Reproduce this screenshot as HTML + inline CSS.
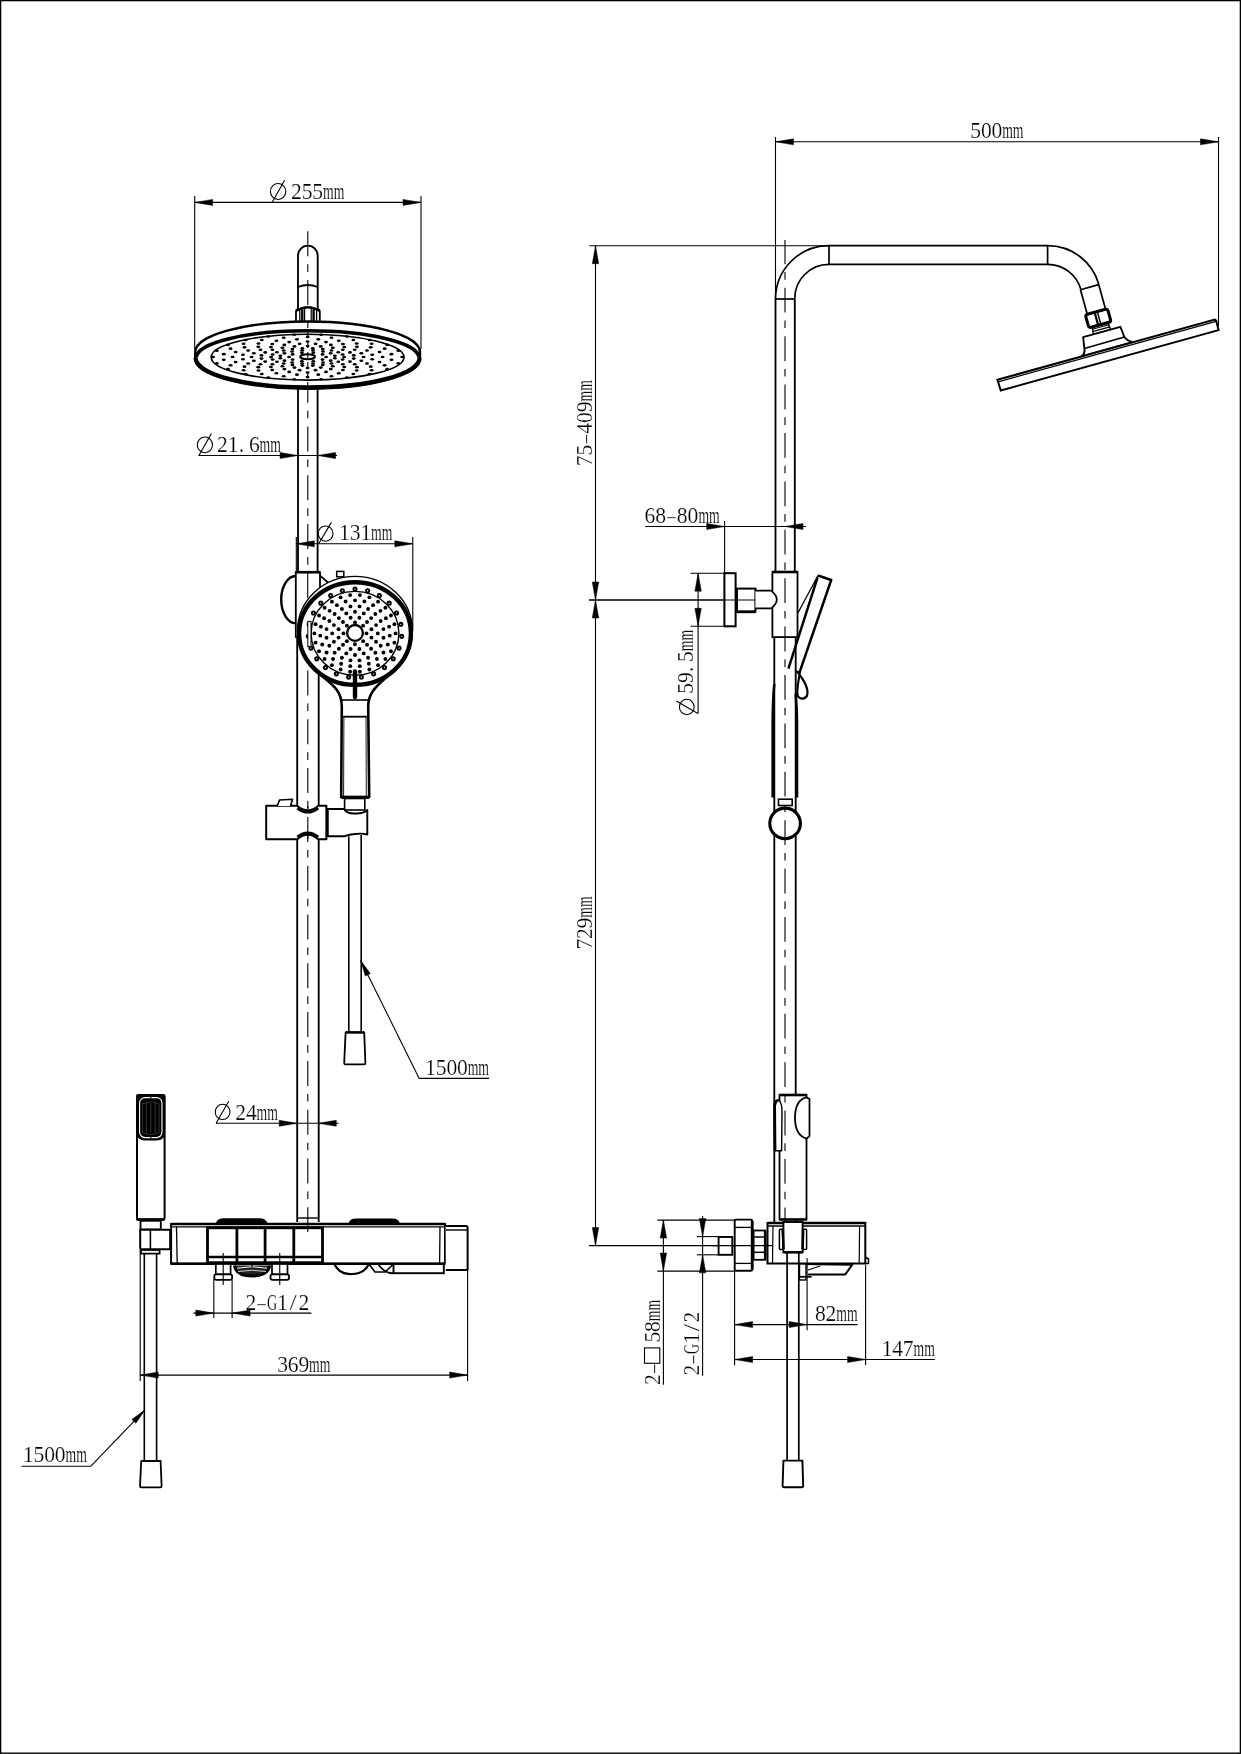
<!DOCTYPE html>
<html><head><meta charset="utf-8"><style>html,body{margin:0;padding:0;background:#fff;width:1241px;height:1754px;overflow:hidden}svg{display:block}text{stroke:#fff;stroke-width:0.22px}svg{will-change:transform}</style></head>
<body><svg width="1241" height="1754" viewBox="0 0 1241 1754">
<rect x="0" y="0" width="1241" height="1754" fill="#fff"/>
<rect x="0.6" y="0.6" width="1239.8" height="1752.6" fill="none" stroke="#000" stroke-width="1.4"/>
<line x1="194.7" y1="196" x2="194.7" y2="349" stroke="#000" stroke-width="1.1" />
<line x1="421" y1="196" x2="421" y2="349" stroke="#000" stroke-width="1.1" />
<line x1="194.7" y1="202.4" x2="421" y2="202.4" stroke="#000" stroke-width="1.1" />
<path d="M194.7,202.4 L212.7,199.4 L212.7,205.4 Z" fill="#000" stroke="#000" stroke-width="0.5"/>
<path d="M421,202.4 L403,205.4 L403,199.4 Z" fill="#000" stroke="#000" stroke-width="0.5"/>
<ellipse cx="278.1" cy="191.5" rx="7.7" ry="7.93" fill="none" stroke="#000" stroke-width="1.1" />
<line x1="284.6" y1="180.2" x2="272.1" y2="202.4" stroke="#000" stroke-width="1.1" />
<g transform="translate(291.2,199.2)"><text transform="translate(5.3,0) scale(0.92,1)" x="0" y="0" text-anchor="middle" font-family="Liberation Serif" font-size="23.5">2</text><text transform="translate(15.9,0) scale(0.92,1)" x="0" y="0" text-anchor="middle" font-family="Liberation Serif" font-size="23.5">5</text><text transform="translate(26.5,0) scale(0.92,1)" x="0" y="0" text-anchor="middle" font-family="Liberation Serif" font-size="23.5">5</text><text x="31.8" y="0" font-family="Liberation Serif" font-size="23.5" textLength="21.3" lengthAdjust="spacingAndGlyphs">mm</text></g>
<line x1="307.8" y1="231.3" x2="307.8" y2="311" stroke="#000" stroke-width="1.1" stroke-dasharray="25 8 7.6 8.2"/>
<path d="M298,311 L298,255.5 A9.85,9.85 0 0 1 317.7,255.5 L317.7,311" fill="none" stroke="#000" stroke-width="1.85" stroke-linejoin="round" />
<path d="M298,287 Q307.85,283 317.7,287" fill="none" stroke="#000" stroke-width="1.85" stroke-linejoin="round" />
<path d="M296,322 L296,312 Q296,309 299,309 Q307.8,305.5 316.6,309 Q319.8,309 319.8,312 L319.8,322" fill="#fff" stroke="#000" stroke-width="1.8" stroke-linejoin="round" />
<line x1="299.8" y1="310" x2="299.8" y2="321" stroke="#000" stroke-width="1.3" />
<line x1="302.3" y1="309" x2="302.3" y2="321" stroke="#000" stroke-width="2.4" />
<line x1="304.6" y1="308" x2="304.6" y2="321" stroke="#000" stroke-width="1.2" />
<line x1="311.2" y1="308" x2="311.2" y2="321" stroke="#000" stroke-width="1.2" />
<line x1="313.6" y1="309" x2="313.6" y2="321" stroke="#000" stroke-width="2.4" />
<line x1="316.6" y1="310" x2="316.6" y2="321" stroke="#000" stroke-width="1.3" />
<path d="M296,311 Q307.8,303.5 319.8,311" fill="none" stroke="#000" stroke-width="2.2" stroke-linejoin="round" />
<path d="M195.2,352 A112.4,30.5 0 0 1 420,352 L420,358 A112.4,30.2 0 0 1 195.2,358 Z" fill="#fff" stroke="#000" stroke-width="2.4" stroke-linejoin="round" />
<path d="M195.2,358 A112.4,30.2 0 0 0 420,358" fill="none" stroke="#000" stroke-width="3.4" stroke-linejoin="round" />
<path d="M196.4,357.6 A111.2,26.8 0 0 1 418.8,357.6" fill="none" stroke="#000" stroke-width="3.6" stroke-linejoin="round" />
<path d="M196.4,357.6 A111.2,29 0 0 0 418.8,357.6" fill="none" stroke="#000" stroke-width="2.6" stroke-linejoin="round" />
<ellipse cx="307.6" cy="357.2" rx="96.4" ry="22.9" fill="none" stroke="#000" stroke-width="1.6" />
<ellipse cx="289.1" cy="357" rx="1.95" ry="1.3" fill="#000"/>
<ellipse cx="292.63" cy="354.42" rx="1.95" ry="1.3" fill="#000"/>
<ellipse cx="301.88" cy="352.82" rx="1.95" ry="1.3" fill="#000"/>
<ellipse cx="313.32" cy="352.82" rx="1.95" ry="1.3" fill="#000"/>
<ellipse cx="322.57" cy="354.42" rx="1.95" ry="1.3" fill="#000"/>
<ellipse cx="326.1" cy="357" rx="1.95" ry="1.3" fill="#000"/>
<ellipse cx="322.57" cy="359.58" rx="1.95" ry="1.3" fill="#000"/>
<ellipse cx="313.32" cy="361.18" rx="1.95" ry="1.3" fill="#000"/>
<ellipse cx="301.88" cy="361.18" rx="1.95" ry="1.3" fill="#000"/>
<ellipse cx="292.63" cy="359.58" rx="1.95" ry="1.3" fill="#000"/>
<ellipse cx="280.33" cy="355.71" rx="1.95" ry="1.3" fill="#000"/>
<ellipse cx="284.49" cy="353.33" rx="1.95" ry="1.3" fill="#000"/>
<ellipse cx="292.16" cy="351.51" rx="1.95" ry="1.3" fill="#000"/>
<ellipse cx="302.18" cy="350.52" rx="1.95" ry="1.3" fill="#000"/>
<ellipse cx="313.02" cy="350.52" rx="1.95" ry="1.3" fill="#000"/>
<ellipse cx="323.04" cy="351.51" rx="1.95" ry="1.3" fill="#000"/>
<ellipse cx="330.71" cy="353.33" rx="1.95" ry="1.3" fill="#000"/>
<ellipse cx="334.87" cy="355.71" rx="1.95" ry="1.3" fill="#000"/>
<ellipse cx="334.87" cy="358.29" rx="1.95" ry="1.3" fill="#000"/>
<ellipse cx="330.71" cy="360.67" rx="1.95" ry="1.3" fill="#000"/>
<ellipse cx="323.04" cy="362.49" rx="1.95" ry="1.3" fill="#000"/>
<ellipse cx="313.02" cy="363.48" rx="1.95" ry="1.3" fill="#000"/>
<ellipse cx="302.18" cy="363.48" rx="1.95" ry="1.3" fill="#000"/>
<ellipse cx="292.16" cy="362.49" rx="1.95" ry="1.3" fill="#000"/>
<ellipse cx="284.49" cy="360.67" rx="1.95" ry="1.3" fill="#000"/>
<ellipse cx="280.33" cy="358.29" rx="1.95" ry="1.3" fill="#000"/>
<ellipse cx="271.1" cy="357" rx="1.95" ry="1.3" fill="#000"/>
<ellipse cx="272.58" cy="354.56" rx="1.95" ry="1.3" fill="#000"/>
<ellipse cx="276.89" cy="352.31" rx="1.95" ry="1.3" fill="#000"/>
<ellipse cx="283.7" cy="350.45" rx="1.95" ry="1.3" fill="#000"/>
<ellipse cx="292.44" cy="349.11" rx="1.95" ry="1.3" fill="#000"/>
<ellipse cx="302.41" cy="348.42" rx="1.95" ry="1.3" fill="#000"/>
<ellipse cx="312.79" cy="348.42" rx="1.95" ry="1.3" fill="#000"/>
<ellipse cx="322.76" cy="349.11" rx="1.95" ry="1.3" fill="#000"/>
<ellipse cx="331.5" cy="350.45" rx="1.95" ry="1.3" fill="#000"/>
<ellipse cx="338.31" cy="352.31" rx="1.95" ry="1.3" fill="#000"/>
<ellipse cx="342.62" cy="354.56" rx="1.95" ry="1.3" fill="#000"/>
<ellipse cx="344.1" cy="357" rx="1.95" ry="1.3" fill="#000"/>
<ellipse cx="342.62" cy="359.44" rx="1.95" ry="1.3" fill="#000"/>
<ellipse cx="338.31" cy="361.69" rx="1.95" ry="1.3" fill="#000"/>
<ellipse cx="331.5" cy="363.55" rx="1.95" ry="1.3" fill="#000"/>
<ellipse cx="322.76" cy="364.89" rx="1.95" ry="1.3" fill="#000"/>
<ellipse cx="312.79" cy="365.58" rx="1.95" ry="1.3" fill="#000"/>
<ellipse cx="302.41" cy="365.58" rx="1.95" ry="1.3" fill="#000"/>
<ellipse cx="292.44" cy="364.89" rx="1.95" ry="1.3" fill="#000"/>
<ellipse cx="283.7" cy="363.55" rx="1.95" ry="1.3" fill="#000"/>
<ellipse cx="276.89" cy="361.69" rx="1.95" ry="1.3" fill="#000"/>
<ellipse cx="272.58" cy="359.44" rx="1.95" ry="1.3" fill="#000"/>
<ellipse cx="261.47" cy="355.42" rx="1.95" ry="1.3" fill="#000"/>
<ellipse cx="265.21" cy="352.4" rx="1.95" ry="1.3" fill="#000"/>
<ellipse cx="272.38" cy="349.75" rx="1.95" ry="1.3" fill="#000"/>
<ellipse cx="282.41" cy="347.69" rx="1.95" ry="1.3" fill="#000"/>
<ellipse cx="294.47" cy="346.38" rx="1.95" ry="1.3" fill="#000"/>
<ellipse cx="307.6" cy="345.93" rx="1.95" ry="1.3" fill="#000"/>
<ellipse cx="320.73" cy="346.38" rx="1.95" ry="1.3" fill="#000"/>
<ellipse cx="332.79" cy="347.69" rx="1.95" ry="1.3" fill="#000"/>
<ellipse cx="342.82" cy="349.75" rx="1.95" ry="1.3" fill="#000"/>
<ellipse cx="349.99" cy="352.4" rx="1.95" ry="1.3" fill="#000"/>
<ellipse cx="353.73" cy="355.42" rx="1.95" ry="1.3" fill="#000"/>
<ellipse cx="353.73" cy="358.58" rx="1.95" ry="1.3" fill="#000"/>
<ellipse cx="349.99" cy="361.6" rx="1.95" ry="1.3" fill="#000"/>
<ellipse cx="342.82" cy="364.25" rx="1.95" ry="1.3" fill="#000"/>
<ellipse cx="332.79" cy="366.31" rx="1.95" ry="1.3" fill="#000"/>
<ellipse cx="320.73" cy="367.62" rx="1.95" ry="1.3" fill="#000"/>
<ellipse cx="307.6" cy="368.07" rx="1.95" ry="1.3" fill="#000"/>
<ellipse cx="294.47" cy="367.62" rx="1.95" ry="1.3" fill="#000"/>
<ellipse cx="282.41" cy="366.31" rx="1.95" ry="1.3" fill="#000"/>
<ellipse cx="272.38" cy="364.25" rx="1.95" ry="1.3" fill="#000"/>
<ellipse cx="265.21" cy="361.6" rx="1.95" ry="1.3" fill="#000"/>
<ellipse cx="261.47" cy="358.58" rx="1.95" ry="1.3" fill="#000"/>
<ellipse cx="251.6" cy="357" rx="1.95" ry="1.3" fill="#000"/>
<ellipse cx="253.87" cy="353.25" rx="1.95" ry="1.3" fill="#000"/>
<ellipse cx="260.49" cy="349.81" rx="1.95" ry="1.3" fill="#000"/>
<ellipse cx="270.93" cy="346.95" rx="1.95" ry="1.3" fill="#000"/>
<ellipse cx="284.34" cy="344.9" rx="1.95" ry="1.3" fill="#000"/>
<ellipse cx="299.63" cy="343.83" rx="1.95" ry="1.3" fill="#000"/>
<ellipse cx="315.57" cy="343.83" rx="1.95" ry="1.3" fill="#000"/>
<ellipse cx="330.86" cy="344.9" rx="1.95" ry="1.3" fill="#000"/>
<ellipse cx="344.27" cy="346.95" rx="1.95" ry="1.3" fill="#000"/>
<ellipse cx="354.71" cy="349.81" rx="1.95" ry="1.3" fill="#000"/>
<ellipse cx="361.33" cy="353.25" rx="1.95" ry="1.3" fill="#000"/>
<ellipse cx="363.6" cy="357" rx="1.95" ry="1.3" fill="#000"/>
<ellipse cx="361.33" cy="360.75" rx="1.95" ry="1.3" fill="#000"/>
<ellipse cx="354.71" cy="364.19" rx="1.95" ry="1.3" fill="#000"/>
<ellipse cx="344.27" cy="367.05" rx="1.95" ry="1.3" fill="#000"/>
<ellipse cx="330.86" cy="369.1" rx="1.95" ry="1.3" fill="#000"/>
<ellipse cx="315.57" cy="370.17" rx="1.95" ry="1.3" fill="#000"/>
<ellipse cx="299.63" cy="370.17" rx="1.95" ry="1.3" fill="#000"/>
<ellipse cx="284.34" cy="369.1" rx="1.95" ry="1.3" fill="#000"/>
<ellipse cx="270.93" cy="367.05" rx="1.95" ry="1.3" fill="#000"/>
<ellipse cx="260.49" cy="364.19" rx="1.95" ry="1.3" fill="#000"/>
<ellipse cx="253.87" cy="360.75" rx="1.95" ry="1.3" fill="#000"/>
<ellipse cx="242.96" cy="354.79" rx="1.95" ry="1.3" fill="#000"/>
<ellipse cx="248.2" cy="350.56" rx="1.95" ry="1.3" fill="#000"/>
<ellipse cx="258.25" cy="346.84" rx="1.95" ry="1.3" fill="#000"/>
<ellipse cx="272.3" cy="343.95" rx="1.95" ry="1.3" fill="#000"/>
<ellipse cx="289.2" cy="342.12" rx="1.95" ry="1.3" fill="#000"/>
<ellipse cx="307.6" cy="341.49" rx="1.95" ry="1.3" fill="#000"/>
<ellipse cx="326" cy="342.12" rx="1.95" ry="1.3" fill="#000"/>
<ellipse cx="342.9" cy="343.95" rx="1.95" ry="1.3" fill="#000"/>
<ellipse cx="356.95" cy="346.84" rx="1.95" ry="1.3" fill="#000"/>
<ellipse cx="367" cy="350.56" rx="1.95" ry="1.3" fill="#000"/>
<ellipse cx="372.24" cy="354.79" rx="1.95" ry="1.3" fill="#000"/>
<ellipse cx="372.24" cy="359.21" rx="1.95" ry="1.3" fill="#000"/>
<ellipse cx="367" cy="363.44" rx="1.95" ry="1.3" fill="#000"/>
<ellipse cx="356.95" cy="367.16" rx="1.95" ry="1.3" fill="#000"/>
<ellipse cx="342.9" cy="370.05" rx="1.95" ry="1.3" fill="#000"/>
<ellipse cx="326" cy="371.88" rx="1.95" ry="1.3" fill="#000"/>
<ellipse cx="307.6" cy="372.51" rx="1.95" ry="1.3" fill="#000"/>
<ellipse cx="289.2" cy="371.88" rx="1.95" ry="1.3" fill="#000"/>
<ellipse cx="272.3" cy="370.05" rx="1.95" ry="1.3" fill="#000"/>
<ellipse cx="258.25" cy="367.16" rx="1.95" ry="1.3" fill="#000"/>
<ellipse cx="248.2" cy="363.44" rx="1.95" ry="1.3" fill="#000"/>
<ellipse cx="242.96" cy="359.21" rx="1.95" ry="1.3" fill="#000"/>
<ellipse cx="232.6" cy="357" rx="1.95" ry="1.3" fill="#000"/>
<ellipse cx="235.64" cy="351.98" rx="1.95" ry="1.3" fill="#000"/>
<ellipse cx="244.51" cy="347.37" rx="1.95" ry="1.3" fill="#000"/>
<ellipse cx="258.49" cy="343.54" rx="1.95" ry="1.3" fill="#000"/>
<ellipse cx="276.44" cy="340.79" rx="1.95" ry="1.3" fill="#000"/>
<ellipse cx="296.93" cy="339.36" rx="1.95" ry="1.3" fill="#000"/>
<ellipse cx="318.27" cy="339.36" rx="1.95" ry="1.3" fill="#000"/>
<ellipse cx="338.76" cy="340.79" rx="1.95" ry="1.3" fill="#000"/>
<ellipse cx="356.71" cy="343.54" rx="1.95" ry="1.3" fill="#000"/>
<ellipse cx="370.69" cy="347.37" rx="1.95" ry="1.3" fill="#000"/>
<ellipse cx="379.56" cy="351.98" rx="1.95" ry="1.3" fill="#000"/>
<ellipse cx="382.6" cy="357" rx="1.95" ry="1.3" fill="#000"/>
<ellipse cx="379.56" cy="362.02" rx="1.95" ry="1.3" fill="#000"/>
<ellipse cx="370.69" cy="366.63" rx="1.95" ry="1.3" fill="#000"/>
<ellipse cx="356.71" cy="370.46" rx="1.95" ry="1.3" fill="#000"/>
<ellipse cx="338.76" cy="373.21" rx="1.95" ry="1.3" fill="#000"/>
<ellipse cx="318.27" cy="374.64" rx="1.95" ry="1.3" fill="#000"/>
<ellipse cx="296.93" cy="374.64" rx="1.95" ry="1.3" fill="#000"/>
<ellipse cx="276.44" cy="373.21" rx="1.95" ry="1.3" fill="#000"/>
<ellipse cx="258.49" cy="370.46" rx="1.95" ry="1.3" fill="#000"/>
<ellipse cx="244.51" cy="366.63" rx="1.95" ry="1.3" fill="#000"/>
<ellipse cx="235.64" cy="362.02" rx="1.95" ry="1.3" fill="#000"/>
<ellipse cx="223.76" cy="354.14" rx="1.95" ry="1.3" fill="#000"/>
<ellipse cx="230.55" cy="348.64" rx="1.95" ry="1.3" fill="#000"/>
<ellipse cx="243.59" cy="343.82" rx="1.95" ry="1.3" fill="#000"/>
<ellipse cx="261.81" cy="340.07" rx="1.95" ry="1.3" fill="#000"/>
<ellipse cx="283.74" cy="337.69" rx="1.95" ry="1.3" fill="#000"/>
<ellipse cx="307.6" cy="336.88" rx="1.95" ry="1.3" fill="#000"/>
<ellipse cx="331.46" cy="337.69" rx="1.95" ry="1.3" fill="#000"/>
<ellipse cx="353.39" cy="340.07" rx="1.95" ry="1.3" fill="#000"/>
<ellipse cx="371.61" cy="343.82" rx="1.95" ry="1.3" fill="#000"/>
<ellipse cx="384.65" cy="348.64" rx="1.95" ry="1.3" fill="#000"/>
<ellipse cx="391.44" cy="354.14" rx="1.95" ry="1.3" fill="#000"/>
<ellipse cx="391.44" cy="359.86" rx="1.95" ry="1.3" fill="#000"/>
<ellipse cx="384.65" cy="365.36" rx="1.95" ry="1.3" fill="#000"/>
<ellipse cx="371.61" cy="370.18" rx="1.95" ry="1.3" fill="#000"/>
<ellipse cx="353.39" cy="373.93" rx="1.95" ry="1.3" fill="#000"/>
<ellipse cx="331.46" cy="376.31" rx="1.95" ry="1.3" fill="#000"/>
<ellipse cx="307.6" cy="377.12" rx="1.95" ry="1.3" fill="#000"/>
<ellipse cx="283.74" cy="376.31" rx="1.95" ry="1.3" fill="#000"/>
<ellipse cx="261.81" cy="373.93" rx="1.95" ry="1.3" fill="#000"/>
<ellipse cx="243.59" cy="370.18" rx="1.95" ry="1.3" fill="#000"/>
<ellipse cx="230.55" cy="365.36" rx="1.95" ry="1.3" fill="#000"/>
<ellipse cx="223.76" cy="359.86" rx="1.95" ry="1.3" fill="#000"/>
<ellipse cx="213" cy="357" rx="1.95" ry="1.3" fill="#000"/>
<ellipse cx="216.83" cy="350.67" rx="1.95" ry="1.3" fill="#000"/>
<ellipse cx="228.02" cy="344.85" rx="1.95" ry="1.3" fill="#000"/>
<ellipse cx="245.65" cy="340.02" rx="1.95" ry="1.3" fill="#000"/>
<ellipse cx="268.3" cy="336.56" rx="1.95" ry="1.3" fill="#000"/>
<ellipse cx="294.14" cy="334.76" rx="1.95" ry="1.3" fill="#000"/>
<ellipse cx="321.06" cy="334.76" rx="1.95" ry="1.3" fill="#000"/>
<ellipse cx="346.9" cy="336.56" rx="1.95" ry="1.3" fill="#000"/>
<ellipse cx="369.55" cy="340.02" rx="1.95" ry="1.3" fill="#000"/>
<ellipse cx="387.18" cy="344.85" rx="1.95" ry="1.3" fill="#000"/>
<ellipse cx="398.37" cy="350.67" rx="1.95" ry="1.3" fill="#000"/>
<ellipse cx="402.2" cy="357" rx="1.95" ry="1.3" fill="#000"/>
<ellipse cx="398.37" cy="363.33" rx="1.95" ry="1.3" fill="#000"/>
<ellipse cx="387.18" cy="369.15" rx="1.95" ry="1.3" fill="#000"/>
<ellipse cx="369.55" cy="373.98" rx="1.95" ry="1.3" fill="#000"/>
<ellipse cx="346.9" cy="377.44" rx="1.95" ry="1.3" fill="#000"/>
<ellipse cx="321.06" cy="379.24" rx="1.95" ry="1.3" fill="#000"/>
<ellipse cx="294.14" cy="379.24" rx="1.95" ry="1.3" fill="#000"/>
<ellipse cx="268.3" cy="377.44" rx="1.95" ry="1.3" fill="#000"/>
<ellipse cx="245.65" cy="373.98" rx="1.95" ry="1.3" fill="#000"/>
<ellipse cx="228.02" cy="369.15" rx="1.95" ry="1.3" fill="#000"/>
<ellipse cx="216.83" cy="363.33" rx="1.95" ry="1.3" fill="#000"/>
<ellipse cx="307.6" cy="356.8" rx="7.4" ry="2.5" fill="#fff" stroke="#000" stroke-width="2" />
<line x1="307.8" y1="322" x2="307.8" y2="389" stroke="#000" stroke-width="1.1" stroke-dasharray="6 4"/>
<line x1="298" y1="389" x2="298" y2="572" stroke="#000" stroke-width="1.85" />
<line x1="317.6" y1="389" x2="317.6" y2="572" stroke="#000" stroke-width="1.85" />
<line x1="307.8" y1="389" x2="307.8" y2="572" stroke="#000" stroke-width="1.1" stroke-dasharray="25 8 7.6 8.2" stroke-dashoffset="11.3"/>
<line x1="198.5" y1="455.5" x2="337" y2="455.5" stroke="#000" stroke-width="1.1" />
<path d="M298,455.5 L280,458.5 L280,452.5 Z" fill="#000" stroke="#000" stroke-width="0.5"/>
<path d="M317.6,455.5 L335.6,452.5 L335.6,458.5 Z" fill="#000" stroke="#000" stroke-width="0.5"/>
<ellipse cx="204.9" cy="444.9" rx="7.6" ry="7.83" fill="none" stroke="#000" stroke-width="1.1" />
<line x1="211.4" y1="433.6" x2="198.9" y2="455.5" stroke="#000" stroke-width="1.1" />
<g transform="translate(217.2,451.8)"><text transform="translate(5.3,0) scale(0.92,1)" x="0" y="0" text-anchor="middle" font-family="Liberation Serif" font-size="23.5">2</text><text transform="translate(15.9,0) scale(0.95,1)" x="0" y="0" text-anchor="middle" font-family="Liberation Serif" font-size="23.5">1</text><text transform="translate(24.2,0) scale(0.92,1)" x="0" y="0" text-anchor="middle" font-family="Liberation Serif" font-size="23.5">.</text><text transform="translate(37.1,0) scale(0.92,1)" x="0" y="0" text-anchor="middle" font-family="Liberation Serif" font-size="23.5">6</text><text x="42.4" y="0" font-family="Liberation Serif" font-size="23.5" textLength="21.3" lengthAdjust="spacingAndGlyphs">mm</text></g>
<line x1="296.3" y1="543.8" x2="412.6" y2="543.8" stroke="#000" stroke-width="1.1" />
<line x1="296.3" y1="537" x2="296.3" y2="572" stroke="#000" stroke-width="1.1" />
<line x1="412.8" y1="537" x2="412.8" y2="631" stroke="#000" stroke-width="1.1" />
<path d="M296.3,543.8 L314.3,540.8 L314.3,546.8 Z" fill="#000" stroke="#000" stroke-width="0.5"/>
<path d="M412.8,543.8 L394.8,546.8 L394.8,540.8 Z" fill="#000" stroke="#000" stroke-width="0.5"/>
<ellipse cx="325.6" cy="533.6" rx="7.4" ry="7.62" fill="none" stroke="#000" stroke-width="1.1" />
<line x1="331.4" y1="522.4" x2="318.7" y2="543.8" stroke="#000" stroke-width="1.1" />
<g transform="translate(339.2,540.4)"><text transform="translate(5.3,0) scale(0.95,1)" x="0" y="0" text-anchor="middle" font-family="Liberation Serif" font-size="23.5">1</text><text transform="translate(15.9,0) scale(0.92,1)" x="0" y="0" text-anchor="middle" font-family="Liberation Serif" font-size="23.5">3</text><text transform="translate(26.5,0) scale(0.95,1)" x="0" y="0" text-anchor="middle" font-family="Liberation Serif" font-size="23.5">1</text><text x="31.8" y="0" font-family="Liberation Serif" font-size="23.5" textLength="21.3" lengthAdjust="spacingAndGlyphs">mm</text></g>
<line x1="297.2" y1="572" x2="297.2" y2="1222" stroke="#000" stroke-width="1.85" />
<line x1="318.7" y1="637" x2="318.7" y2="1222" stroke="#000" stroke-width="1.85" />
<line x1="307.8" y1="572" x2="307.8" y2="1232" stroke="#000" stroke-width="1.1" stroke-dasharray="25 8 7.6 8.2" stroke-dashoffset="47.9"/>
<path d="M295.8,576 A14.6,23.6 0 0 0 295.8,623.2" fill="none" stroke="#000" stroke-width="2.4" stroke-linejoin="round" />
<rect x="295.8" y="572.2" width="24.2" height="64.8" rx="0" fill="#fff" stroke="#000" stroke-width="1.8" />
<line x1="295.8" y1="572.2" x2="320" y2="572.2" stroke="#000" stroke-width="2.6" />
<line x1="307.7" y1="572.2" x2="307.7" y2="598" stroke="#000" stroke-width="1.1" />
<line x1="320" y1="575.6" x2="328" y2="582.5" stroke="#000" stroke-width="1.7" />
<rect x="336.7" y="571.4" width="7.1" height="5.4" rx="0" fill="#fff" stroke="#000" stroke-width="1.5" />
<path d="M318,672 C330,684 341.5,688 341.8,706 L341.2,797 L369.2,797 L368.2,706 C368.6,690 380,684 392,672 Z" fill="#fff" stroke="#000" stroke-width="2.6" stroke-linejoin="round" />
<ellipse cx="355" cy="630.6" rx="57.4" ry="54.2" fill="#fff" stroke="#000" stroke-width="1.4" />
<ellipse cx="355" cy="633.5" rx="55.9" ry="51.3" fill="none" stroke="#000" stroke-width="4.4" />
<ellipse cx="355" cy="633.3" rx="43.9" ry="41.9" fill="none" stroke="#000" stroke-width="1.4" />
<circle cx="355" cy="622.48" r="1.95" fill="#000"/>
<circle cx="363.13" cy="625.67" r="1.95" fill="#000"/>
<circle cx="366.5" cy="633.4" r="1.95" fill="#000"/>
<circle cx="363.13" cy="641.13" r="1.95" fill="#000"/>
<circle cx="355" cy="644.32" r="1.95" fill="#000"/>
<circle cx="346.87" cy="641.13" r="1.95" fill="#000"/>
<circle cx="343.5" cy="633.4" r="1.95" fill="#000"/>
<circle cx="346.87" cy="625.67" r="1.95" fill="#000"/>
<circle cx="359.4" cy="617.8" r="1.95" fill="#000"/>
<circle cx="367.02" cy="621.98" r="1.95" fill="#000"/>
<circle cx="371.42" cy="629.22" r="1.95" fill="#000"/>
<circle cx="371.42" cy="637.58" r="1.95" fill="#000"/>
<circle cx="367.02" cy="644.82" r="1.95" fill="#000"/>
<circle cx="359.4" cy="649" r="1.95" fill="#000"/>
<circle cx="350.6" cy="649" r="1.95" fill="#000"/>
<circle cx="342.98" cy="644.82" r="1.95" fill="#000"/>
<circle cx="338.58" cy="637.58" r="1.95" fill="#000"/>
<circle cx="338.58" cy="629.22" r="1.95" fill="#000"/>
<circle cx="342.98" cy="621.98" r="1.95" fill="#000"/>
<circle cx="350.6" cy="617.8" r="1.95" fill="#000"/>
<circle cx="355" cy="611.74" r="1.95" fill="#000"/>
<circle cx="363.73" cy="613.39" r="1.95" fill="#000"/>
<circle cx="371.12" cy="618.08" r="1.95" fill="#000"/>
<circle cx="376.06" cy="625.11" r="1.95" fill="#000"/>
<circle cx="377.8" cy="633.4" r="1.95" fill="#000"/>
<circle cx="376.06" cy="641.69" r="1.95" fill="#000"/>
<circle cx="371.12" cy="648.72" r="1.95" fill="#000"/>
<circle cx="363.73" cy="653.41" r="1.95" fill="#000"/>
<circle cx="355" cy="655.06" r="1.95" fill="#000"/>
<circle cx="346.27" cy="653.41" r="1.95" fill="#000"/>
<circle cx="338.88" cy="648.72" r="1.95" fill="#000"/>
<circle cx="333.94" cy="641.69" r="1.95" fill="#000"/>
<circle cx="332.2" cy="633.4" r="1.95" fill="#000"/>
<circle cx="333.94" cy="625.11" r="1.95" fill="#000"/>
<circle cx="338.88" cy="618.08" r="1.95" fill="#000"/>
<circle cx="346.27" cy="613.39" r="1.95" fill="#000"/>
<circle cx="359.51" cy="606.38" r="1.95" fill="#000"/>
<circle cx="368.07" cy="609.02" r="1.95" fill="#000"/>
<circle cx="375.36" cy="614.05" r="1.95" fill="#000"/>
<circle cx="380.66" cy="620.98" r="1.95" fill="#000"/>
<circle cx="383.45" cy="629.12" r="1.95" fill="#000"/>
<circle cx="383.45" cy="637.68" r="1.95" fill="#000"/>
<circle cx="380.66" cy="645.82" r="1.95" fill="#000"/>
<circle cx="375.36" cy="652.75" r="1.95" fill="#000"/>
<circle cx="368.07" cy="657.78" r="1.95" fill="#000"/>
<circle cx="359.51" cy="660.42" r="1.95" fill="#000"/>
<circle cx="350.49" cy="660.42" r="1.95" fill="#000"/>
<circle cx="341.93" cy="657.78" r="1.95" fill="#000"/>
<circle cx="334.64" cy="652.75" r="1.95" fill="#000"/>
<circle cx="329.34" cy="645.82" r="1.95" fill="#000"/>
<circle cx="326.55" cy="637.68" r="1.95" fill="#000"/>
<circle cx="326.55" cy="629.12" r="1.95" fill="#000"/>
<circle cx="329.34" cy="620.98" r="1.95" fill="#000"/>
<circle cx="334.64" cy="614.05" r="1.95" fill="#000"/>
<circle cx="341.93" cy="609.02" r="1.95" fill="#000"/>
<circle cx="350.49" cy="606.38" r="1.95" fill="#000"/>
<circle cx="355" cy="600.34" r="1.95" fill="#000"/>
<circle cx="364.39" cy="601.57" r="1.95" fill="#000"/>
<circle cx="373.08" cy="605.15" r="1.95" fill="#000"/>
<circle cx="380.43" cy="610.83" r="1.95" fill="#000"/>
<circle cx="385.9" cy="618.19" r="1.95" fill="#000"/>
<circle cx="389.07" cy="626.67" r="1.95" fill="#000"/>
<circle cx="389.72" cy="635.66" r="1.95" fill="#000"/>
<circle cx="387.79" cy="644.47" r="1.95" fill="#000"/>
<circle cx="383.43" cy="652.47" r="1.95" fill="#000"/>
<circle cx="376.96" cy="659.05" r="1.95" fill="#000"/>
<circle cx="368.86" cy="663.72" r="1.95" fill="#000"/>
<circle cx="359.74" cy="666.15" r="1.95" fill="#000"/>
<circle cx="350.26" cy="666.15" r="1.95" fill="#000"/>
<circle cx="341.14" cy="663.72" r="1.95" fill="#000"/>
<circle cx="333.04" cy="659.05" r="1.95" fill="#000"/>
<circle cx="326.57" cy="652.47" r="1.95" fill="#000"/>
<circle cx="322.21" cy="644.47" r="1.95" fill="#000"/>
<circle cx="320.28" cy="635.66" r="1.95" fill="#000"/>
<circle cx="320.93" cy="626.67" r="1.95" fill="#000"/>
<circle cx="324.1" cy="618.19" r="1.95" fill="#000"/>
<circle cx="329.57" cy="610.83" r="1.95" fill="#000"/>
<circle cx="336.92" cy="605.15" r="1.95" fill="#000"/>
<circle cx="345.61" cy="601.57" r="1.95" fill="#000"/>
<circle cx="359.89" cy="595.11" r="1.95" fill="#000"/>
<circle cx="369.4" cy="597.34" r="1.95" fill="#000"/>
<circle cx="378.06" cy="601.66" r="1.95" fill="#000"/>
<circle cx="385.39" cy="607.82" r="1.95" fill="#000"/>
<circle cx="390.95" cy="615.48" r="1.95" fill="#000"/>
<circle cx="394.42" cy="624.17" r="1.95" fill="#000"/>
<circle cx="395.6" cy="633.4" r="1.95" fill="#000"/>
<circle cx="394.42" cy="642.63" r="1.95" fill="#000"/>
<circle cx="390.95" cy="651.32" r="1.95" fill="#000"/>
<circle cx="385.39" cy="658.98" r="1.95" fill="#000"/>
<circle cx="378.06" cy="665.14" r="1.95" fill="#000"/>
<circle cx="369.4" cy="669.46" r="1.95" fill="#000"/>
<circle cx="359.89" cy="671.69" r="1.95" fill="#000"/>
<circle cx="350.11" cy="671.69" r="1.95" fill="#000"/>
<circle cx="340.6" cy="669.46" r="1.95" fill="#000"/>
<circle cx="331.94" cy="665.14" r="1.95" fill="#000"/>
<circle cx="324.61" cy="658.98" r="1.95" fill="#000"/>
<circle cx="319.05" cy="651.32" r="1.95" fill="#000"/>
<circle cx="315.58" cy="642.63" r="1.95" fill="#000"/>
<circle cx="314.4" cy="633.4" r="1.95" fill="#000"/>
<circle cx="315.58" cy="624.17" r="1.95" fill="#000"/>
<circle cx="319.05" cy="615.48" r="1.95" fill="#000"/>
<circle cx="324.61" cy="607.82" r="1.95" fill="#000"/>
<circle cx="331.94" cy="601.66" r="1.95" fill="#000"/>
<circle cx="340.6" cy="597.34" r="1.95" fill="#000"/>
<circle cx="350.11" cy="595.11" r="1.95" fill="#000"/>
<circle cx="355" cy="589.1" r="1.6" fill="#fff" stroke="#000" stroke-width="1.9"/>
<circle cx="367.63" cy="590.74" r="1.6" fill="#fff" stroke="#000" stroke-width="1.9"/>
<circle cx="379.32" cy="595.53" r="1.6" fill="#fff" stroke="#000" stroke-width="1.9"/>
<circle cx="389.2" cy="603.13" r="1.6" fill="#fff" stroke="#000" stroke-width="1.9"/>
<circle cx="396.55" cy="612.97" r="1.6" fill="#fff" stroke="#000" stroke-width="1.9"/>
<circle cx="400.82" cy="624.31" r="1.6" fill="#fff" stroke="#000" stroke-width="1.9"/>
<circle cx="401.69" cy="636.32" r="1.6" fill="#fff" stroke="#000" stroke-width="1.9"/>
<circle cx="399.1" cy="648.1" r="1.6" fill="#fff" stroke="#000" stroke-width="1.9"/>
<circle cx="393.23" cy="658.79" r="1.6" fill="#fff" stroke="#000" stroke-width="1.9"/>
<circle cx="384.53" cy="667.59" r="1.6" fill="#fff" stroke="#000" stroke-width="1.9"/>
<circle cx="373.65" cy="673.84" r="1.6" fill="#fff" stroke="#000" stroke-width="1.9"/>
<circle cx="361.37" cy="677.09" r="1.6" fill="#fff" stroke="#000" stroke-width="1.9"/>
<circle cx="348.63" cy="677.09" r="1.6" fill="#fff" stroke="#000" stroke-width="1.9"/>
<circle cx="336.35" cy="673.84" r="1.6" fill="#fff" stroke="#000" stroke-width="1.9"/>
<circle cx="325.47" cy="667.59" r="1.6" fill="#fff" stroke="#000" stroke-width="1.9"/>
<circle cx="316.77" cy="658.79" r="1.6" fill="#fff" stroke="#000" stroke-width="1.9"/>
<circle cx="310.9" cy="648.1" r="1.6" fill="#fff" stroke="#000" stroke-width="1.9"/>
<circle cx="308.31" cy="636.32" r="1.6" fill="#fff" stroke="#000" stroke-width="1.9"/>
<circle cx="309.18" cy="624.31" r="1.6" fill="#fff" stroke="#000" stroke-width="1.9"/>
<circle cx="313.45" cy="612.97" r="1.6" fill="#fff" stroke="#000" stroke-width="1.9"/>
<circle cx="320.8" cy="603.13" r="1.6" fill="#fff" stroke="#000" stroke-width="1.9"/>
<circle cx="330.68" cy="595.53" r="1.6" fill="#fff" stroke="#000" stroke-width="1.9"/>
<circle cx="342.37" cy="590.74" r="1.6" fill="#fff" stroke="#000" stroke-width="1.9"/>
<circle cx="355" cy="632.9" r="7.9" fill="#fff" stroke="#000" stroke-width="2.3"/>
<rect x="307.8" y="621.4" width="3.2" height="25.2" rx="0" fill="#fff" stroke="#000" stroke-width="1" />
<line x1="355" y1="671.5" x2="355" y2="697" stroke="#000" stroke-width="4.4" stroke-linecap="round"/>
<line x1="341.8" y1="700" x2="368.2" y2="700" stroke="#000" stroke-width="1.6" />
<line x1="341.8" y1="716.7" x2="368.2" y2="716.7" stroke="#000" stroke-width="1.8" />
<line x1="341.2" y1="797.4" x2="369.2" y2="797.4" stroke="#000" stroke-width="3" />
<line x1="343.9" y1="717.5" x2="343.6" y2="796" stroke="#000" stroke-width="0.9" />
<line x1="366" y1="717.5" x2="366.3" y2="796" stroke="#000" stroke-width="0.9" />
<rect x="344.6" y="798.5" width="20.2" height="11.5" rx="0" fill="#fff" stroke="#000" stroke-width="1.6" />
<path d="M266.2,805.8 L297.2,805.8 Q307.8,815 318.3,805.8 L326.4,805.8 L326.4,839.2 L318.3,839.2 Q307.8,830 297.2,839.2 L266.2,839.2 Z" fill="#fff" stroke="#000" stroke-width="2" stroke-linejoin="round" />
<path d="M297.2,808.2 Q307.8,816.5 318.3,808.2" fill="none" stroke="#000" stroke-width="2.4" stroke-linejoin="round" />
<path d="M297.2,836.8 Q307.8,828.5 318.3,836.8" fill="none" stroke="#000" stroke-width="2.4" stroke-linejoin="round" />
<path d="M327.8,809 L344,809 Q347,814 355,813.5 Q363,814 367.3,810 L367.3,834.5 Q362,833 355,834 Q347,835 345,836.2 L327.8,836.2 Z" fill="#fff" stroke="#000" stroke-width="1.9" stroke-linejoin="round" />
<line x1="326.4" y1="806" x2="326.4" y2="839" stroke="#000" stroke-width="1" />
<path d="M277.3,806 L279.5,800 L292.5,799.3 L290.5,806" fill="#fff" stroke="#000" stroke-width="1.6" stroke-linejoin="round" />
<line x1="307.8" y1="806" x2="307.8" y2="839" stroke="#000" stroke-width="1.1" stroke-dasharray="25 8 7.6 8.2" stroke-dashoffset="574.7"/>
<line x1="348.8" y1="836.2" x2="348.8" y2="1032.4" stroke="#000" stroke-width="1.6" />
<line x1="361.2" y1="835" x2="361.2" y2="1032.4" stroke="#000" stroke-width="1.6" />
<path d="M345.6,1032.4 L364.2,1032.4 L365.4,1063 Q365.4,1064.4 364,1064.4 L345.6,1064.4 Q344.2,1064.4 344.2,1063 Z" fill="#fff" stroke="#000" stroke-width="1.8" stroke-linejoin="round" />
<line x1="345.6" y1="1032.4" x2="364.2" y2="1032.4" stroke="#000" stroke-width="2.4" />
<line x1="360.7" y1="960.5" x2="419.2" y2="1078.4" stroke="#000" stroke-width="1.1" />
<line x1="419.2" y1="1078.4" x2="489.2" y2="1078.4" stroke="#000" stroke-width="1.1" />
<path d="M360.7,960.5 L370.32,973.59 L365.3,976.08 Z" fill="#000" stroke="#000" stroke-width="0.5"/>
<g transform="translate(425.3,1074.7)"><text transform="translate(5.3,0) scale(0.95,1)" x="0" y="0" text-anchor="middle" font-family="Liberation Serif" font-size="23.5">1</text><text transform="translate(15.9,0) scale(0.92,1)" x="0" y="0" text-anchor="middle" font-family="Liberation Serif" font-size="23.5">5</text><text transform="translate(26.5,0) scale(0.92,1)" x="0" y="0" text-anchor="middle" font-family="Liberation Serif" font-size="23.5">0</text><text transform="translate(37.1,0) scale(0.92,1)" x="0" y="0" text-anchor="middle" font-family="Liberation Serif" font-size="23.5">0</text><text x="42.4" y="0" font-family="Liberation Serif" font-size="23.5" textLength="21.3" lengthAdjust="spacingAndGlyphs">mm</text></g>
<line x1="216" y1="1123.3" x2="338.5" y2="1123.3" stroke="#000" stroke-width="1.1" />
<path d="M297.2,1123.3 L279.2,1126.3 L279.2,1120.3 Z" fill="#000" stroke="#000" stroke-width="0.5"/>
<path d="M318.3,1123.3 L336.3,1120.3 L336.3,1126.3 Z" fill="#000" stroke="#000" stroke-width="0.5"/>
<ellipse cx="222.6" cy="1111.9" rx="7.4" ry="7.62" fill="none" stroke="#000" stroke-width="1.1" />
<line x1="228.7" y1="1101.2" x2="216.1" y2="1123.3" stroke="#000" stroke-width="1.1" />
<g transform="translate(235.4,1119.6)"><text transform="translate(5.3,0) scale(0.92,1)" x="0" y="0" text-anchor="middle" font-family="Liberation Serif" font-size="23.5">2</text><text transform="translate(15.9,0) scale(0.92,1)" x="0" y="0" text-anchor="middle" font-family="Liberation Serif" font-size="23.5">4</text><text x="21.2" y="0" font-family="Liberation Serif" font-size="23.5" textLength="21.3" lengthAdjust="spacingAndGlyphs">mm</text></g>
<path d="M137,1219.6 L137,1097 Q137,1095 139,1095 L162.6,1095 Q164.6,1095 164.6,1097 L164.6,1217.6 Q164.6,1219.6 162.6,1219.6 L139,1219.6 Q137,1219.6 137,1217.6 Z" fill="#fff" stroke="#000" stroke-width="2" stroke-linejoin="round" />
<path d="M137,1095 L164.6,1095 L164.6,1132 Q164.6,1140 156.6,1140 L145,1140 Q137,1140 137,1132 Z" fill="#000" stroke="#000" stroke-width="1.2" stroke-linejoin="round" />
<rect x="139.6" y="1097.6" width="22.4" height="40" rx="5.5" fill="none" stroke="#fff" stroke-width="1.1"/>
<line x1="142.6" y1="1103" x2="142.6" y2="1133" stroke="#555" stroke-width="0.6" />
<line x1="146.4" y1="1103" x2="146.4" y2="1133" stroke="#555" stroke-width="0.6" />
<line x1="150.8" y1="1103" x2="150.8" y2="1133" stroke="#555" stroke-width="0.6" />
<line x1="155.2" y1="1103" x2="155.2" y2="1133" stroke="#555" stroke-width="0.6" />
<line x1="159" y1="1103" x2="159" y2="1133" stroke="#555" stroke-width="0.6" />
<path d="M143,1103.5 Q150.8,1100.5 158.6,1103.5" fill="none" stroke="#555" stroke-width="0.6" stroke-linejoin="round" />
<path d="M143,1133 Q150.8,1136 158.6,1133" fill="none" stroke="#555" stroke-width="0.6" stroke-linejoin="round" />
<line x1="150.8" y1="1097" x2="150.8" y2="1098.5" stroke="#000" stroke-width="1.2" />
<line x1="150.8" y1="1136.7" x2="150.8" y2="1138.5" stroke="#000" stroke-width="1.2" />
<line x1="137" y1="1219.6" x2="164.6" y2="1219.6" stroke="#000" stroke-width="2.6" />
<rect x="140.5" y="1220.8" width="20.3" height="8.7" rx="0" fill="#fff" stroke="#000" stroke-width="1.8" />
<path d="M140.2,1229.7 L170.2,1229.7 L170.2,1249.3 L141,1249.3 Q140.2,1249.3 140.2,1248 Z" fill="#fff" stroke="#000" stroke-width="2" stroke-linejoin="round" />
<line x1="150.4" y1="1229.7" x2="150.4" y2="1249.3" stroke="#000" stroke-width="1.6" />
<rect x="141" y="1250" width="18.6" height="3.6" rx="0" fill="#fff" stroke="#000" stroke-width="1.8" />
<line x1="144.3" y1="1253.6" x2="144.3" y2="1461" stroke="#000" stroke-width="1.6" />
<line x1="156.6" y1="1253.6" x2="156.6" y2="1461" stroke="#000" stroke-width="1.6" />
<path d="M141.2,1461 L160.6,1461 L161.6,1486 Q161.6,1487.4 160.2,1487.4 L141.2,1487.4 Q140,1487.4 140,1486 Z" fill="#fff" stroke="#000" stroke-width="1.8" stroke-linejoin="round" />
<line x1="297.2" y1="1218" x2="318.3" y2="1218" stroke="#000" stroke-width="1.4" />
<path d="M217,1224 Q218,1219.6 224,1219.6 L259,1219.6 Q265,1219.6 266.4,1224" fill="#000" stroke="#000" stroke-width="2.6" stroke-linejoin="round" />
<path d="M349.7,1224 Q350.7,1219.7 356,1219.7 L392,1219.7 Q398,1219.7 398.6,1224" fill="#000" stroke="#000" stroke-width="2.6" stroke-linejoin="round" />
<rect x="171.1" y="1224" width="273.9" height="39.7" rx="0" fill="#fff" stroke="#000" stroke-width="2" />
<line x1="171.1" y1="1224" x2="445" y2="1224" stroke="#000" stroke-width="2.6" />
<line x1="171.1" y1="1226.8" x2="445" y2="1226.8" stroke="#000" stroke-width="1.3" />
<line x1="176.5" y1="1226.8" x2="177.2" y2="1263.5" stroke="#000" stroke-width="1.3" />
<line x1="440" y1="1226.8" x2="439.6" y2="1263.5" stroke="#000" stroke-width="1.3" />
<line x1="171.1" y1="1263.7" x2="445" y2="1263.7" stroke="#000" stroke-width="2.4" />
<rect x="207.5" y="1227.8" width="115" height="34.9" rx="0" fill="none" stroke="#000" stroke-width="2.8" />
<line x1="236.9" y1="1227.8" x2="236.9" y2="1262.7" stroke="#000" stroke-width="2.8" />
<line x1="265.1" y1="1227.8" x2="265.1" y2="1262.7" stroke="#000" stroke-width="2.8" />
<line x1="293.8" y1="1227.8" x2="293.8" y2="1262.7" stroke="#000" stroke-width="2.8" />
<line x1="207.5" y1="1257" x2="322.5" y2="1257" stroke="#000" stroke-width="2.4" />
<line x1="307.8" y1="1224" x2="307.8" y2="1232" stroke="#000" stroke-width="1.1" />
<path d="M445.6,1226 L466,1226 Q467.6,1226 467.6,1228 L467.6,1270 L445.8,1270" fill="#fff" stroke="#000" stroke-width="2" stroke-linejoin="round" />
<line x1="446" y1="1230" x2="467.6" y2="1230" stroke="#000" stroke-width="1.4" />
<rect x="215.8" y="1264" width="14.8" height="10.4" rx="0" fill="#fff" stroke="#000" stroke-width="1.7" />
<path d="M214.3,1276 Q214.3,1274.4 216.3,1274.4 L230.1,1274.4 Q232.1,1274.4 232.1,1276 L232.1,1278 Q232.1,1279.9 230.1,1279.9 L216.3,1279.9 Q214.3,1279.9 214.3,1278 Z" fill="#fff" stroke="#000" stroke-width="1.8" stroke-linejoin="round" />
<line x1="223.2" y1="1253" x2="223.2" y2="1285" stroke="#000" stroke-width="1.1" />
<rect x="272" y="1264" width="15.5" height="10.4" rx="0" fill="#fff" stroke="#000" stroke-width="1.7" />
<path d="M270.5,1276 Q270.5,1274.4 272.5,1274.4 L287,1274.4 Q289,1274.4 289,1276 L289,1278 Q289,1279.9 287,1279.9 L272.5,1279.9 Q270.5,1279.9 270.5,1278 Z" fill="#fff" stroke="#000" stroke-width="1.8" stroke-linejoin="round" />
<line x1="279.75" y1="1253" x2="279.75" y2="1285" stroke="#000" stroke-width="1.1" />
<path d="M234.5,1265.5 Q236,1276 252,1276 Q268,1276 269.8,1265.5" fill="#222" stroke="#000" stroke-width="3" stroke-linejoin="round" />
<path d="M237,1268.2 Q252,1265.2 267,1268.2" fill="none" stroke="#fff" stroke-width="1" stroke-linejoin="round" />
<path d="M238,1271.5 Q252,1269 266,1271.5" fill="none" stroke="#fff" stroke-width="0.8" stroke-linejoin="round" />
<line x1="252" y1="1264" x2="252" y2="1267" stroke="#000" stroke-width="1.2" />
<path d="M334.2,1264 Q340,1275 352,1274 Q364,1274 369,1264" fill="none" stroke="#000" stroke-width="2.2" stroke-linejoin="round" />
<path d="M369,1264 L375,1272 L385,1272 L393.5,1264" fill="none" stroke="#000" stroke-width="1.6" stroke-linejoin="round" />
<path d="M378,1264 Q385,1274 393.5,1273.2" fill="none" stroke="#000" stroke-width="1.8" stroke-linejoin="round" />
<rect x="393.5" y="1264" width="50.3" height="9.2" rx="0" fill="#fff" stroke="#000" stroke-width="1.9" />
<line x1="213.8" y1="1279" x2="213.8" y2="1318" stroke="#000" stroke-width="1.1" />
<line x1="232.1" y1="1280" x2="232.1" y2="1318" stroke="#000" stroke-width="1.1" />
<line x1="193.5" y1="1313.1" x2="311.4" y2="1313.1" stroke="#000" stroke-width="1.1" />
<path d="M213.8,1313.1 L195.8,1316.1 L195.8,1310.1 Z" fill="#000" stroke="#000" stroke-width="0.5"/>
<path d="M232.1,1313.1 L250.1,1310.1 L250.1,1316.1 Z" fill="#000" stroke="#000" stroke-width="0.5"/>
<g transform="translate(245.5,1309.7)"><text transform="translate(5.3,0) scale(0.92,1)" x="0" y="0" text-anchor="middle" font-family="Liberation Serif" font-size="23.5">2</text><text transform="translate(15.9,0) scale(0.72,1)" x="0" y="0" text-anchor="middle" font-family="Liberation Serif" font-size="23.5">–</text><text transform="translate(26.5,0) scale(0.6,1)" x="0" y="0" text-anchor="middle" font-family="Liberation Serif" font-size="23.5">G</text><text transform="translate(37.1,0) scale(0.95,1)" x="0" y="0" text-anchor="middle" font-family="Liberation Serif" font-size="23.5">1</text><text transform="translate(47.7,0) scale(1.1,1)" x="0" y="0" text-anchor="middle" font-family="Liberation Serif" font-size="23.5">/</text><text transform="translate(58.3,0) scale(0.92,1)" x="0" y="0" text-anchor="middle" font-family="Liberation Serif" font-size="23.5">2</text></g>
<line x1="140.2" y1="1250" x2="140.2" y2="1381" stroke="#000" stroke-width="1.1" />
<line x1="467.6" y1="1270" x2="467.6" y2="1381" stroke="#000" stroke-width="1.1" />
<line x1="140.2" y1="1375.1" x2="467.6" y2="1375.1" stroke="#000" stroke-width="1.1" />
<path d="M140.2,1375.1 L158.2,1372.1 L158.2,1378.1 Z" fill="#000" stroke="#000" stroke-width="0.5"/>
<path d="M467.6,1375.1 L449.6,1378.1 L449.6,1372.1 Z" fill="#000" stroke="#000" stroke-width="0.5"/>
<g transform="translate(277.3,1371.7)"><text transform="translate(5.3,0) scale(0.92,1)" x="0" y="0" text-anchor="middle" font-family="Liberation Serif" font-size="23.5">3</text><text transform="translate(15.9,0) scale(0.92,1)" x="0" y="0" text-anchor="middle" font-family="Liberation Serif" font-size="23.5">6</text><text transform="translate(26.5,0) scale(0.92,1)" x="0" y="0" text-anchor="middle" font-family="Liberation Serif" font-size="23.5">9</text><text x="31.8" y="0" font-family="Liberation Serif" font-size="23.5" textLength="21.3" lengthAdjust="spacingAndGlyphs">mm</text></g>
<line x1="145" y1="1409.8" x2="90.9" y2="1466.2" stroke="#000" stroke-width="1.1" />
<line x1="90.9" y1="1466.2" x2="21.6" y2="1466.2" stroke="#000" stroke-width="1.1" />
<path d="M145,1409.8 L135.94,1423.28 L131.9,1419.41 Z" fill="#000" stroke="#000" stroke-width="0.5"/>
<g transform="translate(23.1,1461.8)"><text transform="translate(5.3,0) scale(0.95,1)" x="0" y="0" text-anchor="middle" font-family="Liberation Serif" font-size="23.5">1</text><text transform="translate(15.9,0) scale(0.92,1)" x="0" y="0" text-anchor="middle" font-family="Liberation Serif" font-size="23.5">5</text><text transform="translate(26.5,0) scale(0.92,1)" x="0" y="0" text-anchor="middle" font-family="Liberation Serif" font-size="23.5">0</text><text transform="translate(37.1,0) scale(0.92,1)" x="0" y="0" text-anchor="middle" font-family="Liberation Serif" font-size="23.5">0</text><text x="42.4" y="0" font-family="Liberation Serif" font-size="23.5" textLength="21.3" lengthAdjust="spacingAndGlyphs">mm</text></g>
<line x1="775.5" y1="137" x2="775.5" y2="299" stroke="#000" stroke-width="1.1" />
<line x1="1218.5" y1="137" x2="1218.5" y2="326" stroke="#000" stroke-width="1.1" />
<line x1="775.5" y1="141.8" x2="1218.5" y2="141.8" stroke="#000" stroke-width="1.1" />
<path d="M775.5,141.8 L793.5,138.8 L793.5,144.8 Z" fill="#000" stroke="#000" stroke-width="0.5"/>
<path d="M1218.5,141.8 L1200.5,144.8 L1200.5,138.8 Z" fill="#000" stroke="#000" stroke-width="0.5"/>
<g transform="translate(970.4,137.9)"><text transform="translate(5.3,0) scale(0.92,1)" x="0" y="0" text-anchor="middle" font-family="Liberation Serif" font-size="23.5">5</text><text transform="translate(15.9,0) scale(0.92,1)" x="0" y="0" text-anchor="middle" font-family="Liberation Serif" font-size="23.5">0</text><text transform="translate(26.5,0) scale(0.92,1)" x="0" y="0" text-anchor="middle" font-family="Liberation Serif" font-size="23.5">0</text><text x="31.8" y="0" font-family="Liberation Serif" font-size="23.5" textLength="21.3" lengthAdjust="spacingAndGlyphs">mm</text></g>
<line x1="589.4" y1="245.7" x2="829" y2="245.7" stroke="#000" stroke-width="1.1" />
<line x1="595.5" y1="245.7" x2="595.5" y2="600" stroke="#000" stroke-width="1.1" />
<path d="M595.5,245.7 L598.7,263.7 L592.3,263.7 Z" fill="#000" stroke="#000" stroke-width="0.5"/>
<path d="M595.5,600 L592.3,582 L598.7,582 Z" fill="#000" stroke="#000" stroke-width="0.5"/>
<g transform="translate(591.8,466.2) rotate(-90)"><text transform="translate(5.4,0) scale(0.92,1)" x="0" y="0" text-anchor="middle" font-family="Liberation Serif" font-size="23.5">7</text><text transform="translate(16.2,0) scale(0.92,1)" x="0" y="0" text-anchor="middle" font-family="Liberation Serif" font-size="23.5">5</text><text transform="translate(27,0) scale(0.72,1)" x="0" y="0" text-anchor="middle" font-family="Liberation Serif" font-size="23.5">–</text><text transform="translate(37.8,0) scale(0.92,1)" x="0" y="0" text-anchor="middle" font-family="Liberation Serif" font-size="23.5">4</text><text transform="translate(48.6,0) scale(0.92,1)" x="0" y="0" text-anchor="middle" font-family="Liberation Serif" font-size="23.5">0</text><text transform="translate(59.4,0) scale(0.92,1)" x="0" y="0" text-anchor="middle" font-family="Liberation Serif" font-size="23.5">9</text><text x="64.8" y="0" font-family="Liberation Serif" font-size="23.5" textLength="21.3" lengthAdjust="spacingAndGlyphs">mm</text></g>
<line x1="589" y1="600" x2="766" y2="600" stroke="#000" stroke-width="1.1" />
<path d="M775.5,299 A53.5,53.5 0 0 1 829,245.6 L1047.6,245.6 A53.2,53.2 0 0 1 1098.9,284.7" fill="none" stroke="#000" stroke-width="1.7" stroke-linejoin="round" />
<path d="M794.8,299 A34.2,34.2 0 0 1 829,264.3 L1047.6,264.3 A34.6,34.6 0 0 1 1080.9,289.6" fill="none" stroke="#000" stroke-width="1.7" stroke-linejoin="round" />
<line x1="829" y1="245.6" x2="829" y2="264.3" stroke="#000" stroke-width="1.7" />
<line x1="1047.6" y1="245.6" x2="1047.6" y2="264.3" stroke="#000" stroke-width="1.7" />
<line x1="775.5" y1="299" x2="794.8" y2="299" stroke="#000" stroke-width="1.7" />
<line x1="785" y1="240" x2="785" y2="1222" stroke="#000" stroke-width="1.1" stroke-dasharray="24.8 7.9 7.6 8.1" stroke-dashoffset="0.6"/>
<g transform="translate(1089.6,287.2) rotate(-15.5)">
<line x1="-9.5" y1="0" x2="9.5" y2="0" stroke="#000" stroke-width="1.7" />
<line x1="-9.5" y1="0" x2="-9.5" y2="25.5" stroke="#000" stroke-width="1.7" />
<line x1="9.5" y1="0" x2="9.5" y2="25.5" stroke="#000" stroke-width="1.7" />
<path d="M-8,39 L-9,46.5 L9,46.5 L8,39" fill="#fff" stroke="#000" stroke-width="1.5" stroke-linejoin="round" />
<line x1="-8.5" y1="41.3" x2="8.5" y2="41.3" stroke="#000" stroke-width="1.2" />
<line x1="-8.8" y1="43.6" x2="8.8" y2="43.6" stroke="#000" stroke-width="1.2" />
<rect x="-11.5" y="25.5" width="23" height="13.5" rx="2.2" fill="#fff" stroke="#000" stroke-width="3"/>
<line x1="-1.9" y1="25.5" x2="-1.9" y2="39" stroke="#000" stroke-width="2.2" />
<line x1="0.9" y1="25.5" x2="0.9" y2="39" stroke="#000" stroke-width="1.4" />
<path d="M-19.6,46.4 L19.1,46.4 L20.2,57.3 Q22,62 27,64.5 L-26,64.5 Q-21.5,62 -21.4,57.6 Z" fill="#fff" stroke="#000" stroke-width="1.9" stroke-linejoin="round" />
<line x1="-21.4" y1="57.6" x2="20.2" y2="57.3" stroke="#000" stroke-width="1.6" />
<path d="M-113.6,64.6 L112,64.6 L113,66 L112.8,75.8 L-113.2,75.8 Z" fill="#fff" stroke="#000" stroke-width="2"/>
<line x1="-113.4" y1="66.8" x2="112.6" y2="66.8" stroke="#000" stroke-width="1.3" />
</g>
<line x1="775.5" y1="299" x2="775.5" y2="572" stroke="#000" stroke-width="1.85" />
<line x1="794.8" y1="299" x2="794.8" y2="572" stroke="#000" stroke-width="1.85" />
<line x1="774.3" y1="637" x2="774.3" y2="1222" stroke="#000" stroke-width="1.85" />
<line x1="795.7" y1="637" x2="795.7" y2="1222" stroke="#000" stroke-width="1.85" />
<line x1="645.1" y1="526.5" x2="805.9" y2="526.5" stroke="#000" stroke-width="1.1" />
<line x1="724.6" y1="521" x2="724.6" y2="573.2" stroke="#000" stroke-width="1.1" />
<path d="M724.6,526.5 L706.6,529.5 L706.6,523.5 Z" fill="#000" stroke="#000" stroke-width="0.5"/>
<path d="M785,526.5 L803,523.5 L803,529.5 Z" fill="#000" stroke="#000" stroke-width="0.5"/>
<g transform="translate(644.4,522.8)"><text transform="translate(5.4,0) scale(0.92,1)" x="0" y="0" text-anchor="middle" font-family="Liberation Serif" font-size="23.5">6</text><text transform="translate(16.2,0) scale(0.92,1)" x="0" y="0" text-anchor="middle" font-family="Liberation Serif" font-size="23.5">8</text><text transform="translate(27,0) scale(0.72,1)" x="0" y="0" text-anchor="middle" font-family="Liberation Serif" font-size="23.5">–</text><text transform="translate(37.8,0) scale(0.92,1)" x="0" y="0" text-anchor="middle" font-family="Liberation Serif" font-size="23.5">8</text><text transform="translate(48.6,0) scale(0.92,1)" x="0" y="0" text-anchor="middle" font-family="Liberation Serif" font-size="23.5">0</text><text x="54" y="0" font-family="Liberation Serif" font-size="23.5" textLength="21.3" lengthAdjust="spacingAndGlyphs">mm</text></g>
<rect x="724.4" y="573.2" width="11.2" height="53.1" rx="0" fill="#fff" stroke="#000" stroke-width="2" />
<rect x="737" y="588.6" width="18.4" height="23.2" rx="0" fill="#fff" stroke="#000" stroke-width="2" />
<line x1="737" y1="611.8" x2="755.4" y2="611.8" stroke="#000" stroke-width="2.8" />
<line x1="589" y1="600" x2="766" y2="600" stroke="#000" stroke-width="1.1" />
<line x1="690.5" y1="573.2" x2="724.4" y2="573.2" stroke="#000" stroke-width="1.1" />
<line x1="690.5" y1="626.3" x2="724.4" y2="626.3" stroke="#000" stroke-width="1.1" />
<line x1="698.1" y1="573.2" x2="698.1" y2="713.4" stroke="#000" stroke-width="1.1" />
<path d="M698.1,573.2 L701.3,591.2 L694.9,591.2 Z" fill="#000" stroke="#000" stroke-width="0.5"/>
<path d="M698.1,626.3 L694.9,608.3 L701.3,608.3 Z" fill="#000" stroke="#000" stroke-width="0.5"/>
<ellipse cx="686.8" cy="706.9" rx="7.4" ry="7.62" fill="none" stroke="#000" stroke-width="1.1" />
<line x1="676.3" y1="700.9" x2="697.9" y2="713.4" stroke="#000" stroke-width="1.1" />
<g transform="translate(693.4,693.6) rotate(-90)"><text transform="translate(5.3,0) scale(0.92,1)" x="0" y="0" text-anchor="middle" font-family="Liberation Serif" font-size="23.5">5</text><text transform="translate(15.9,0) scale(0.92,1)" x="0" y="0" text-anchor="middle" font-family="Liberation Serif" font-size="23.5">9</text><text transform="translate(24.2,0) scale(0.92,1)" x="0" y="0" text-anchor="middle" font-family="Liberation Serif" font-size="23.5">.</text><text transform="translate(37.1,0) scale(0.92,1)" x="0" y="0" text-anchor="middle" font-family="Liberation Serif" font-size="23.5">5</text><text x="42.4" y="0" font-family="Liberation Serif" font-size="23.5" textLength="21.3" lengthAdjust="spacingAndGlyphs">mm</text></g>
<rect x="772.4" y="572" width="25.1" height="65.1" rx="0" fill="#fff" stroke="#000" stroke-width="1.8" />
<line x1="772.4" y1="572" x2="797.5" y2="572" stroke="#000" stroke-width="2.6" />
<line x1="785" y1="574" x2="785" y2="637" stroke="#000" stroke-width="1.1" stroke-dasharray="24.8 7.9 7.6 8.1" stroke-dashoffset="334.6"/>
<path d="M755.4,590.6 L771,590.6 Q776.8,595 776.8,599.5 Q776.8,604 771,608.4 L755.4,608.4" fill="#fff" stroke="#000" stroke-width="1.8" stroke-linejoin="round" />
<path d="M818,575.5 L831.2,580 L799.3,673.1" fill="none" stroke="#000" stroke-width="2.5" stroke-linejoin="round" />
<path d="M817.6,577.3 L788.4,668.6" fill="none" stroke="#000" stroke-width="2.5" stroke-linejoin="round" />
<line x1="818" y1="575.5" x2="797.9" y2="613" stroke="#000" stroke-width="1.3" />
<path d="M797,671.5 C804,680 808.5,688 807.3,694.5 C806.2,699.5 800,699.8 797.8,696 C796.2,692 797.5,686 799.8,673" fill="none" stroke="#000" stroke-width="2.2" stroke-linejoin="round" />
<line x1="796.2" y1="671.2" x2="800.6" y2="672.2" stroke="#000" stroke-width="1.5" />
<path d="M774.3,684 Q772.8,700 772.7,720 L772.7,797.5" fill="none" stroke="#000" stroke-width="2.6" stroke-linejoin="round" />
<path d="M795.7,694 Q796.9,708 797,722 L797,797.5" fill="none" stroke="#000" stroke-width="2.6" stroke-linejoin="round" />
<rect x="778.5" y="799.2" width="13.7" height="6.3" rx="0" fill="#fff" stroke="#000" stroke-width="1.6" />
<circle cx="785.1" cy="823.4" r="15.3" fill="#fff" stroke="#000" stroke-width="3.1"/>
<line x1="785" y1="808" x2="785" y2="840" stroke="#000" stroke-width="1.1" stroke-dasharray="24.8 7.9 7.6 8.1" stroke-dashoffset="568.6"/>
<line x1="595.5" y1="600" x2="595.5" y2="1245.6" stroke="#000" stroke-width="1.1" />
<path d="M595.5,600 L598.7,618 L592.3,618 Z" fill="#000" stroke="#000" stroke-width="0.5"/>
<path d="M595.5,1245.6 L592.3,1227.6 L598.7,1227.6 Z" fill="#000" stroke="#000" stroke-width="0.5"/>
<g transform="translate(591.9,949.5) rotate(-90)"><text transform="translate(5.3,0) scale(0.92,1)" x="0" y="0" text-anchor="middle" font-family="Liberation Serif" font-size="23.5">7</text><text transform="translate(15.9,0) scale(0.92,1)" x="0" y="0" text-anchor="middle" font-family="Liberation Serif" font-size="23.5">2</text><text transform="translate(26.5,0) scale(0.92,1)" x="0" y="0" text-anchor="middle" font-family="Liberation Serif" font-size="23.5">9</text><text x="31.8" y="0" font-family="Liberation Serif" font-size="23.5" textLength="21.3" lengthAdjust="spacingAndGlyphs">mm</text></g>
<line x1="589" y1="1245.6" x2="772" y2="1245.6" stroke="#000" stroke-width="1.1" />
<rect x="779.5" y="1095" width="27" height="124.5" rx="0" fill="#fff" stroke="#000" stroke-width="1.8" />
<line x1="779.5" y1="1095" x2="806.5" y2="1095" stroke="#000" stroke-width="2.6" />
<line x1="779.5" y1="1219.5" x2="806.5" y2="1219.5" stroke="#000" stroke-width="2.4" />
<path d="M806.5,1097.4 L809.5,1099 L809.5,1136 L806.5,1138.7 Q795,1135 795,1118 Q795,1100 806.5,1097.4" fill="#fff" stroke="#000" stroke-width="1.8" stroke-linejoin="round" />
<path d="M775,1150.7 L774.6,1106 Q775.5,1099.5 778.8,1100.5 Q782.2,1103 782,1112 L781.6,1150.7 Z" fill="#fff" stroke="#000" stroke-width="1.4" stroke-linejoin="round" />
<path d="M775,1150.7 L774.6,1106 Q775.5,1099.5 778.8,1100.5" fill="none" stroke="#000" stroke-width="2.8" stroke-linejoin="round" />
<line x1="785" y1="1095" x2="785" y2="1219" stroke="#000" stroke-width="1.1" stroke-dasharray="24.8 7.9 7.6 8.1" stroke-dashoffset="855.6"/>
<rect x="767.5" y="1223" width="97.8" height="40.5" rx="0" fill="#fff" stroke="#000" stroke-width="2" />
<line x1="767.5" y1="1223" x2="865.3" y2="1223" stroke="#000" stroke-width="2.6" />
<line x1="767.5" y1="1226" x2="865.3" y2="1226" stroke="#000" stroke-width="1.3" />
<line x1="859.6" y1="1226" x2="859.2" y2="1263.5" stroke="#000" stroke-width="1.2" />
<line x1="773" y1="1226" x2="772.5" y2="1263.5" stroke="#000" stroke-width="1.2" />
<path d="M865.3,1257 L868.5,1259 L868.5,1263.5 L865.3,1263.5" fill="none" stroke="#000" stroke-width="1.5" stroke-linejoin="round" />
<rect x="783.4" y="1222" width="19.2" height="30.3" rx="0" fill="#fff" stroke="#000" stroke-width="1.9" />
<rect x="779.4" y="1229.2" width="4" height="20.2" rx="1" fill="none" stroke="#000" stroke-width="1.5" />
<rect x="802.6" y="1229.2" width="4" height="20.2" rx="1" fill="none" stroke="#000" stroke-width="1.5" />
<line x1="782.6" y1="1230" x2="783.6" y2="1249" stroke="#000" stroke-width="2.4" />
<line x1="803.2" y1="1230" x2="802.6" y2="1249" stroke="#000" stroke-width="2.4" />
<line x1="783.4" y1="1252.3" x2="802.6" y2="1252.3" stroke="#000" stroke-width="2.3" />
<path d="M801,1264 L852.3,1264.7 L845.2,1274.5 L808,1274.5" fill="#fff" stroke="#000" stroke-width="2" stroke-linejoin="round" />
<path d="M808,1270 L820,1266" fill="none" stroke="#000" stroke-width="1.3" stroke-linejoin="round" />
<rect x="718.6" y="1237" width="13.7" height="17.8" rx="0" fill="#fff" stroke="#000" stroke-width="1.9" />
<rect x="734.7" y="1219.6" width="17.5" height="51.2" rx="1.2" fill="#fff" stroke="#000" stroke-width="1.9" />
<line x1="752.2" y1="1221" x2="752.2" y2="1269.5" stroke="#000" stroke-width="2.8" />
<line x1="734.7" y1="1227.4" x2="752.2" y2="1227.4" stroke="#000" stroke-width="1.3" />
<line x1="734.7" y1="1263.4" x2="752.2" y2="1263.4" stroke="#000" stroke-width="1.3" />
<rect x="753.6" y="1230.5" width="11.6" height="29.3" rx="0" fill="#fff" stroke="#000" stroke-width="1.8" />
<line x1="765.2" y1="1231" x2="765.2" y2="1259.5" stroke="#000" stroke-width="2.6" />
<line x1="753.6" y1="1237" x2="765.2" y2="1237" stroke="#000" stroke-width="1.5" />
<line x1="753.6" y1="1252.3" x2="765.2" y2="1252.3" stroke="#000" stroke-width="1.5" />
<line x1="712" y1="1245.6" x2="772" y2="1245.6" stroke="#000" stroke-width="1.1" />
<line x1="657.4" y1="1220.1" x2="734.7" y2="1220.1" stroke="#000" stroke-width="1.1" />
<line x1="657.4" y1="1271.1" x2="734.7" y2="1271.1" stroke="#000" stroke-width="1.1" />
<line x1="663.4" y1="1220.1" x2="663.4" y2="1384.8" stroke="#000" stroke-width="1.1" />
<path d="M663.4,1220.1 L666.6,1238.1 L660.2,1238.1 Z" fill="#000" stroke="#000" stroke-width="0.5"/>
<path d="M663.4,1271.1 L660.2,1253.1 L666.6,1253.1 Z" fill="#000" stroke="#000" stroke-width="0.5"/>
<g transform="translate(659.8,1384.8) rotate(-90)"><rect x="21.5" y="-15.3" width="15.4" height="15.3" fill="none" stroke="#000" stroke-width="1.1"/></g>
<g transform="translate(659.8,1384.8) rotate(-90)"><text transform="translate(5.3,0) scale(0.92,1)" x="0" y="0" text-anchor="middle" font-family="Liberation Serif" font-size="23.5">2</text><text transform="translate(15.9,0) scale(0.72,1)" x="0" y="0" text-anchor="middle" font-family="Liberation Serif" font-size="23.5">–</text></g>
<g transform="translate(659.8,1342.4) rotate(-90)"><text transform="translate(5.3,0) scale(0.92,1)" x="0" y="0" text-anchor="middle" font-family="Liberation Serif" font-size="23.5">5</text><text transform="translate(15.9,0) scale(0.92,1)" x="0" y="0" text-anchor="middle" font-family="Liberation Serif" font-size="23.5">8</text><text x="21.2" y="0" font-family="Liberation Serif" font-size="23.5" textLength="21.3" lengthAdjust="spacingAndGlyphs">mm</text></g>
<line x1="696.8" y1="1236.6" x2="718.6" y2="1236.6" stroke="#000" stroke-width="1.1" />
<line x1="696.8" y1="1254.8" x2="718.6" y2="1254.8" stroke="#000" stroke-width="1.1" />
<line x1="702.6" y1="1216" x2="702.6" y2="1375.8" stroke="#000" stroke-width="1.1" />
<path d="M702.6,1236.6 L699.4,1218.6 L705.8,1218.6 Z" fill="#000" stroke="#000" stroke-width="0.5"/>
<path d="M702.6,1254.8 L705.8,1272.8 L699.4,1272.8 Z" fill="#000" stroke="#000" stroke-width="0.5"/>
<g transform="translate(698.8,1375.4) rotate(-90)"><text transform="translate(5.3,0) scale(0.92,1)" x="0" y="0" text-anchor="middle" font-family="Liberation Serif" font-size="23.5">2</text><text transform="translate(15.9,0) scale(0.72,1)" x="0" y="0" text-anchor="middle" font-family="Liberation Serif" font-size="23.5">–</text><text transform="translate(26.5,0) scale(0.6,1)" x="0" y="0" text-anchor="middle" font-family="Liberation Serif" font-size="23.5">G</text><text transform="translate(37.1,0) scale(0.95,1)" x="0" y="0" text-anchor="middle" font-family="Liberation Serif" font-size="23.5">1</text><text transform="translate(47.7,0) scale(1.1,1)" x="0" y="0" text-anchor="middle" font-family="Liberation Serif" font-size="23.5">/</text><text transform="translate(58.3,0) scale(0.92,1)" x="0" y="0" text-anchor="middle" font-family="Liberation Serif" font-size="23.5">2</text></g>
<line x1="734.6" y1="1271" x2="734.6" y2="1365.2" stroke="#000" stroke-width="1.1" />
<line x1="807.1" y1="1258" x2="807.1" y2="1330.3" stroke="#000" stroke-width="1.1" />
<rect x="799.5" y="1264" width="6.5" height="16" rx="0" fill="#fff" stroke="#000" stroke-width="1.4" />
<line x1="799.5" y1="1276.8" x2="811.5" y2="1276.8" stroke="#000" stroke-width="1.8" />
<line x1="865.6" y1="1265" x2="865.6" y2="1365" stroke="#000" stroke-width="1.1" />
<line x1="734.6" y1="1324.6" x2="857.6" y2="1324.6" stroke="#000" stroke-width="1.1" />
<path d="M734.6,1324.6 L752.6,1321.6 L752.6,1327.6 Z" fill="#000" stroke="#000" stroke-width="0.5"/>
<path d="M807.1,1324.6 L789.1,1327.6 L789.1,1321.6 Z" fill="#000" stroke="#000" stroke-width="0.5"/>
<g transform="translate(815.1,1320.5)"><text transform="translate(5.3,0) scale(0.92,1)" x="0" y="0" text-anchor="middle" font-family="Liberation Serif" font-size="23.5">8</text><text transform="translate(15.9,0) scale(0.92,1)" x="0" y="0" text-anchor="middle" font-family="Liberation Serif" font-size="23.5">2</text><text x="21.2" y="0" font-family="Liberation Serif" font-size="23.5" textLength="21.3" lengthAdjust="spacingAndGlyphs">mm</text></g>
<line x1="734.6" y1="1359.5" x2="934.8" y2="1359.5" stroke="#000" stroke-width="1.1" />
<path d="M734.6,1359.5 L752.6,1356.5 L752.6,1362.5 Z" fill="#000" stroke="#000" stroke-width="0.5"/>
<path d="M865.6,1359.5 L847.6,1362.5 L847.6,1356.5 Z" fill="#000" stroke="#000" stroke-width="0.5"/>
<g transform="translate(881.7,1355.6)"><text transform="translate(5.3,0) scale(0.95,1)" x="0" y="0" text-anchor="middle" font-family="Liberation Serif" font-size="23.5">1</text><text transform="translate(15.9,0) scale(0.92,1)" x="0" y="0" text-anchor="middle" font-family="Liberation Serif" font-size="23.5">4</text><text transform="translate(26.5,0) scale(0.92,1)" x="0" y="0" text-anchor="middle" font-family="Liberation Serif" font-size="23.5">7</text><text x="31.8" y="0" font-family="Liberation Serif" font-size="23.5" textLength="21.3" lengthAdjust="spacingAndGlyphs">mm</text></g>
<line x1="787.1" y1="1252.3" x2="787.1" y2="1460.6" stroke="#000" stroke-width="1.7" />
<line x1="798.8" y1="1252.3" x2="798.8" y2="1460.6" stroke="#000" stroke-width="1.7" />
<path d="M783.4,1460.6 L802.4,1460.6 L803.2,1486 Q803.2,1487.2 802,1487.2 L783.8,1487.2 Q782.6,1487.2 782.6,1486 Z" fill="#fff" stroke="#000" stroke-width="1.9" stroke-linejoin="round" />
</svg></body></html>
